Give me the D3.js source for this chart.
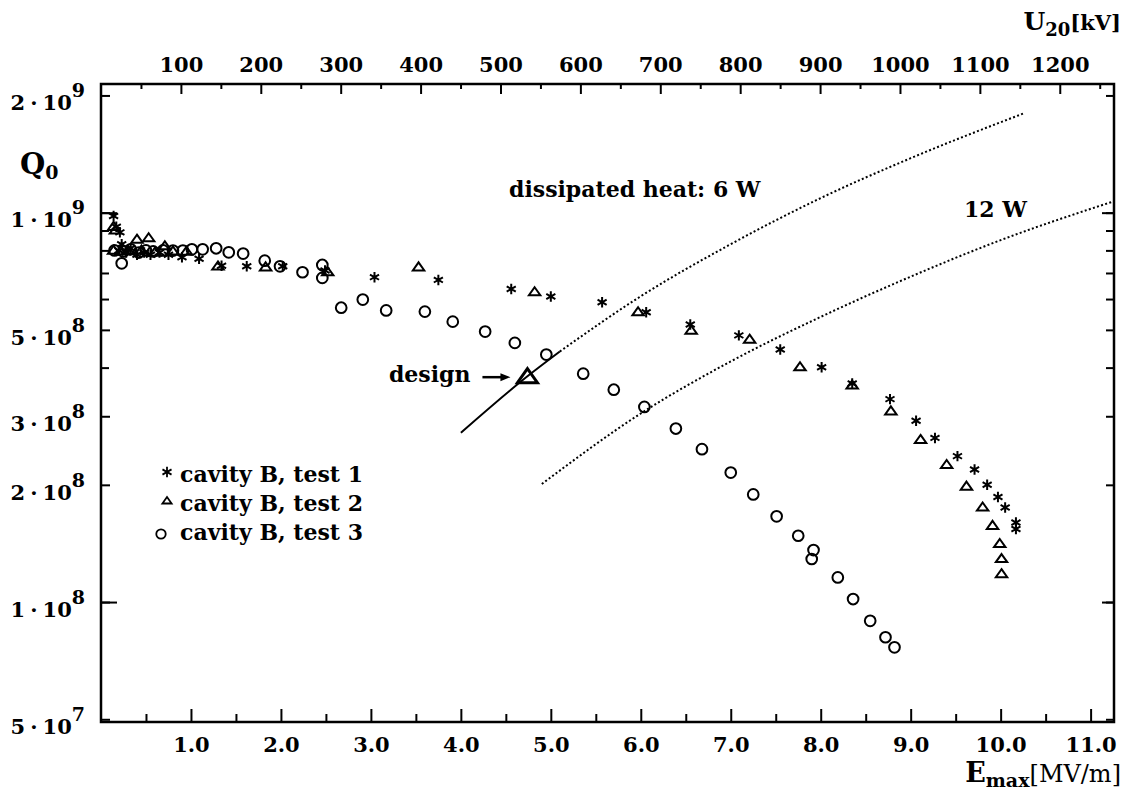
<!DOCTYPE html>
<html>
<head>
<meta charset="utf-8">
<script src="https://cdn.jsdelivr.net/npm/d3@7/dist/d3.min.js"></script>
<style>
 body{margin:0;background:#fff;}
 svg text{font-family:"DejaVu Serif",serif;font-weight:bold;fill:#000;}
</style>
</head>
<body>
<svg id="chart" width="1127" height="791"></svg>
<script>
// Q0 against peak surface field for three tests of cavity B.
// each point: [E_max in MV/m, Q0]
 const test1=[[0.14,9.8e8],[0.17,9.2e8],[0.21,8.9e8],[0.23,8.3e8],[0.20,8.0e8],[0.28,7.9e8],[0.33,8.1e8],
 [0.40,7.8e8],[0.48,7.9e8],[0.55,7.8e8],[0.65,7.9e8],[0.75,7.8e8],[0.90,7.68e8],[1.09,7.61e8],[1.34,7.31e8],
 [1.62,7.28e8],[2.02,7.28e8],[2.49,7.10e8],[3.04,6.83e8],[3.75,6.72e8],[4.56,6.37e8],[5.00,6.09e8],[5.57,5.89e8],
 [6.06,5.55e8],[6.55,5.16e8],[7.09,4.84e8],[7.55,4.45e8],[8.01,4.01e8],[8.35,3.64e8],[8.77,3.32e8],[9.06,2.92e8],
 [9.27,2.64e8],[9.52,2.37e8],[9.71,2.19e8],[9.85,2.0e8],[9.97,1.86e8],[10.05,1.75e8],[10.17,1.60e8],[10.17,1.54e8]];
 const test2=[[0.14,9.2e8],[0.16,9.0e8],[0.14,7.99e8],[0.22,7.95e8],[0.30,8.0e8],[0.40,8.53e8],[0.53,8.6e8],
 [0.45,8.0e8],[0.60,7.9e8],[0.71,8.2e8],[0.80,7.95e8],[0.95,7.94e8],[1.30,7.28e8],[1.83,7.24e8],[2.52,7.03e8],
 [3.53,7.24e8],[4.82,6.25e8],[5.97,5.55e8],[6.56,4.98e8],[7.21,4.72e8],[7.77,4.01e8],[8.35,3.6e8],[8.78,3.09e8],
 [9.11,2.61e8],[9.40,2.25e8],[9.62,1.98e8],[9.80,1.75e8],[9.91,1.57e8],[9.99,1.41e8],[10.01,1.29e8],[10.01,1.18e8]];
 const test3=[[0.23,7.41e8],[0.15,8.0e8],[0.25,7.95e8],[0.33,8.05e8],[0.42,7.9e8],[0.50,8.0e8],[0.58,7.95e8],
 [0.69,8.0e8],[0.80,7.99e8],[0.91,7.99e8],[1.01,8.05e8],[1.13,8.05e8],[1.28,8.1e8],[1.42,7.91e8],[1.58,7.85e8],
 [1.82,7.53e8],[1.99,7.28e8],[2.24,7.03e8],[2.46,7.34e8],[2.46,6.80e8],[2.67,5.70e8],[2.91,5.98e8],[3.17,5.61e8],
 [3.60,5.57e8],[3.91,5.25e8],[4.27,4.95e8],[4.60,4.63e8],[4.95,4.32e8],[5.36,3.86e8],[5.70,3.51e8],[6.04,3.17e8],
 [6.39,2.79e8],[6.68,2.47e8],[7.00,2.15e8],[7.25,1.89e8],[7.51,1.66e8],[7.75,1.48e8],[7.92,1.36e8],[7.90,1.29e8],
 [8.19,1.157e8],[8.36,1.018e8],[8.55,8.95e7],[8.72,8.12e7],[8.82,7.65e7]];
// constant dissipated heat lines (6 W solid up to solidTo, dotted above), and the design point
 const heat6W=[[4.0,2.72e8],[4.74,3.8e8],[5.1,4.4e8],[6.0,6.1e8],[7.0,8.3e8],[8.0,1.09e9],[9.0,1.38e9],[10.26,1.8e9]];
 const heat12W=[[4.9,2.01e8],[6.0,3.05e8],[7.0,4.15e8],[8.0,5.4e8],[9.0,6.85e8],[10.0,8.5e8],[11.26,1.07e9]];
 const solidTo=5.1;
 const design=[4.74,3.78e8];
// ticks
 const eTicks=[1,2,3,4,5,6,7,8,9,10,11];
 const eMinor=[0.5,1.5,2.5,3.5,4.5,5.5,6.5,7.5,8.5,9.5,10.5];
 const uTicks=[100,200,300,400,500,600,700,800,900,1000,1100,1200];
 const uMinor=[50,150,250,350,450,550,650,750,850,950,1050,1150,1250];
 const qTicks=[5e7,1e8,2e8,3e8,5e8,1e9,2e9];
 const qDecades=[1e8,1e9];
 const qMinor=[4e8,6e8,7e8,8e8,9e8];
 const kvPerMV=112.6;
 const legend=['cavity B, test 1','cavity B, test 2','cavity B, test 3'];

 const frame={left:101,right:1114,top:84,bottom:722};
 const svg=d3.select('#chart');
 const x=d3.scaleLinear().domain([0,11.26]).range([frame.left,frame.right]);
 const u=d3.scaleLinear().domain([0,11.26*kvPerMV]).range([frame.left,frame.right]);
 const y=d3.scaleLog().domain([4.92e7,2.14e9]).range([frame.bottom,frame.top]);

 const style=(size)=>g=>{g.attr('font-size',size).attr('font-family',null);
  g.select('.domain').remove();
  g.selectAll('line').attr('stroke-width',2);};

// bottom axis
 svg.append('g').attr('transform',`translate(0,${frame.bottom})`)
  .call(d3.axisBottom(x).tickValues(eMinor).tickSize(-8).tickFormat(''))
  .call(style(20));
 svg.append('g').attr('transform',`translate(0,${frame.bottom})`)
  .call(d3.axisBottom(x).tickValues(eTicks).tickSize(-13).tickPadding(15).tickFormat(d3.format('.1f')))
  .call(style(21));
// top axis (U20)
 svg.append('g').attr('transform',`translate(0,${frame.top})`)
  .call(d3.axisTop(u).tickValues(uMinor).tickSize(-5).tickFormat(''))
  .call(style(20));
 svg.append('g').attr('transform',`translate(0,${frame.top})`)
  .call(d3.axisTop(u).tickValues(uTicks).tickSize(-10).tickPadding(12).tickFormat(d3.format('d')))
  .call(style(21));
// left axis with m·10^e labels
 svg.append('g').attr('transform',`translate(${frame.left},0)`)
  .call(d3.axisLeft(y).tickValues(qMinor).tickSize(-8).tickFormat(''))
  .call(style(20));
 svg.append('g').attr('transform',`translate(${frame.left},0)`)
  .call(d3.axisLeft(y).tickValues(qDecades).tickSize(-16).tickFormat(''))
  .call(style(20));
 svg.append('g').attr('transform',`translate(${frame.left},0)`)
  .call(d3.axisLeft(y).tickValues(qTicks).tickSize(-9).tickPadding(16).tickFormat(''))
  .call(style(21))
  .call(g=>g.selectAll('.tick text').attr('dy','0.68em').each(function(q){
   const e=Math.floor(Math.log10(q)+1e-9),m=Math.round(q/10**e),t=d3.select(this);
   t.append('tspan').text(m);
   t.append('tspan').attr('dx',5).text('·');
   t.append('tspan').attr('dx',5).text('10');
   t.append('tspan').attr('dy',-13).attr('font-size',19).text(e);}));
// right axis, ticks only
 svg.append('g').attr('transform',`translate(${frame.right},0)`)
  .call(d3.axisRight(y).tickValues([...qTicks,...qMinor]).tickSize(-8).tickFormat(''))
  .call(style(20));
 svg.append('g').attr('transform',`translate(${frame.right},0)`)
  .call(d3.axisRight(y).tickValues(qDecades).tickSize(-12).tickFormat(''))
  .call(style(20));

 svg.append('rect').attr('x',frame.left).attr('y',frame.top)
  .attr('width',frame.right-frame.left).attr('height',frame.bottom-frame.top)
  .attr('fill','none').attr('stroke','#000').attr('stroke-width',2.5);

// heat lines
 const line=d3.line().x(d=>x(d[0])).y(d=>y(d[1])).curve(d3.curveMonotoneX);
 const curves=svg.append('g').attr('fill','none').attr('stroke','#000').attr('stroke-width',2);
 curves.append('path').attr('d',line(heat6W.filter(d=>d[0]<=solidTo)));
 curves.append('path').attr('d',line(heat6W.filter(d=>d[0]>=solidTo))).attr('stroke-dasharray','2,2.3');
 curves.append('path').attr('d',line(heat12W)).attr('stroke-dasharray','2,2.3');

// markers
 const asterisk={draw(c,s){const r=Math.sqrt(s)/2,a=r*Math.cos(Math.PI/6),b=r/2;
  c.moveTo(0,-r);c.lineTo(0,r);c.moveTo(-a,-b);c.lineTo(a,b);c.moveTo(-a,b);c.lineTo(a,-b);}};
 const triangle={draw(c,s){const r=Math.sqrt(s)/2;
  c.moveTo(0,-r*0.95);c.lineTo(r*1.1,r*0.6);c.lineTo(-r*1.1,r*0.6);c.closePath();}};
 const series=[{data:test1,type:asterisk,size:110},{data:test2,type:triangle,size:108},{data:test3,type:d3.symbolCircle,size:90}];
 series.forEach(({data,type,size})=>
  svg.append('g').attr('fill','none').attr('stroke','#000').attr('stroke-width',2)
   .selectAll('path').data(data).join('path')
   .attr('transform',d=>`translate(${x(d[0])},${y(d[1])})`)
   .attr('d',d3.symbol(type,size)));

// design point
 const dx=x(design[0]),dy=y(design[1]);
 svg.append('path').attr('transform',`translate(${dx},${dy})`).attr('d',d3.symbol(triangle,330))
  .attr('fill','none').attr('stroke','#000').attr('stroke-width',3);
 svg.append('line').attr('x1',dx-45).attr('x2',dx-24).attr('y1',dy).attr('y2',dy)
  .attr('stroke','#000').attr('stroke-width',2.5);
 svg.append('path').attr('d',`M${dx-17},${dy}L${dx-27},${dy-4}L${dx-27},${dy+4}Z`).attr('fill','#000');
 svg.append('text').attr('x',dx-57).attr('y',dy+5).attr('text-anchor','end').attr('font-size',22).text('design');

// annotations
 svg.append('text').attr('x',509).attr('y',197).attr('font-size',22).text('dissipated heat:  6 W');
 svg.append('text').attr('x',964).attr('y',217).attr('font-size',22).text('12 W');

// legend
 const entry=svg.append('g').selectAll('g').data(series).join('g')
  .attr('transform',(d,i)=>`translate(0,${482+i*29})`);
 entry.append('path').attr('transform',(d,i)=>`translate(${i==2?161:167},${i==2?-6:-10})`)
  .attr('d',(d,i)=>d3.symbol(d.type,i==1?70:i==2?70:d.size)())
  .attr('fill','none').attr('stroke','#000').attr('stroke-width',1.8);
 entry.append('text').attr('x',180).attr('font-size',22).text((d,i)=>legend[i]);

// axis titles
 const q=svg.append('text').attr('x',20).attr('y',174).attr('font-size',29);
 q.append('tspan').text('Q');
 q.append('tspan').attr('font-size',19).attr('dy',5).text('0');
 const ut=svg.append('text').attr('x',1121).attr('y',30).attr('text-anchor','end').attr('font-size',25);
 ut.append('tspan').text('U');
 ut.append('tspan').attr('font-size',18).attr('dy',6).text('20');
 ut.append('tspan').attr('font-size',21).attr('dy',-6).text('[kV]');
 const et=svg.append('text').attr('x',1121).attr('y',782).attr('text-anchor','end').attr('font-size',27);
 et.append('tspan').text('E');
 et.append('tspan').attr('font-size',19).attr('dy',5).text('max');
 et.append('tspan').attr('font-size',24).attr('font-weight','normal').attr('dy',-5).text('[MV/m]');
</script>
</body>
</html>
